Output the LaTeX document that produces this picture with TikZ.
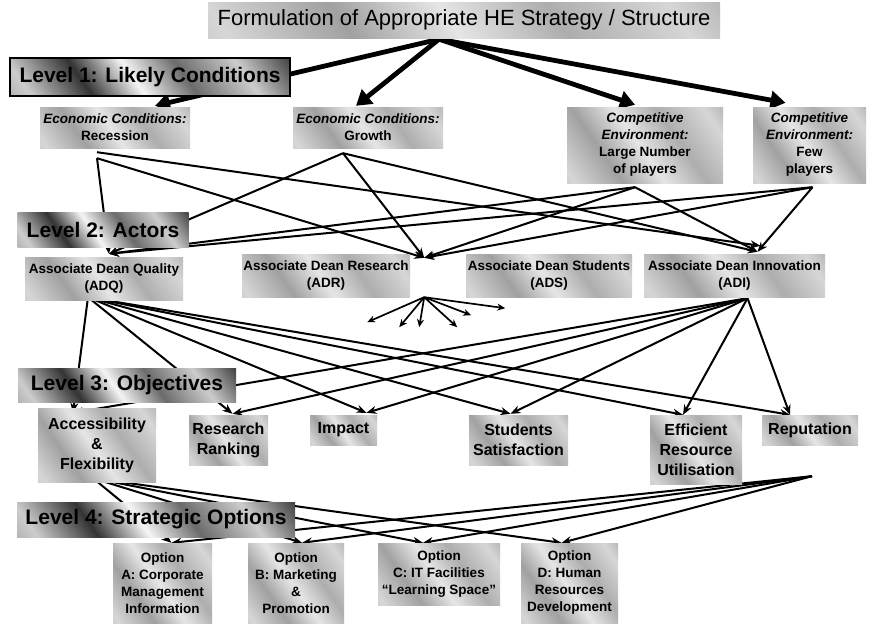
\documentclass[tikz,border=0pt]{standalone}
\usepackage{fontspec}
\setmainfont{Liberation Sans}
\usetikzlibrary{arrows.meta,calc}

% brushed-steel fills
\definecolor{s1}{gray}{0.68}
\definecolor{s2}{gray}{0.84}
\definecolor{s3}{gray}{0.63}
\definecolor{s4}{gray}{0.90}
\definecolor{d1}{gray}{0.42}
\definecolor{d2}{gray}{0.80}
\definecolor{d3}{gray}{0.20}
\definecolor{d4}{gray}{0.96}
\pgfdeclarehorizontalshading{steel}{100bp}{color(0bp)=(s1); color(18bp)=(s2); color(34bp)=(s3); color(48bp)=(s4); color(62bp)=(s1); color(78bp)=(s2); color(90bp)=(s3); color(100bp)=(s2)}
\pgfdeclarehorizontalshading{steeldark}{100bp}{color(0bp)=(d1); color(20bp)=(d2); color(34bp)=(d3); color(46bp)=(d4); color(58bp)=(d1); color(72bp)=(d2); color(86bp)=(d3); color(100bp)=(d2)}

\pgfdeclarelayer{paper}
\pgfdeclarelayer{wires}
\pgfsetlayers{paper,wires,main}

\tikzset{
  plate/.style={shade, shading=steel, shading angle=35, inner sep=0pt, align=center,
    font=\bfseries\fontsize{13.5}{17}\selectfont},
  headplate/.style={plate, font=\fontsize{22}{26}\selectfont},
  goal/.style={plate, font=\bfseries\fontsize{16}{20}\selectfont},
  tag/.style={shade, shading=steeldark, shading angle=35, inner sep=0pt, align=center,
    font=\bfseries\fontsize{21}{24}\selectfont},
  wire/.style={line width=2pt, -{Stealth[length=10pt,width=8pt]}},
  fanwire/.style={line width=1.7pt, -{Stealth[length=8pt,width=7pt]}},
  bigwire/.style={line width=4.8pt, -{Triangle[length=15pt,width=18pt]}},
}

\begin{document}
\begin{tikzpicture}[x=1pt,y=-1pt]
\useasboundingbox (0,0) rectangle (870,624);
\begin{pgfonlayer}{paper}
  \fill[white] (0,0) rectangle (870,624);
\end{pgfonlayer}

% ---- top ----
\node[headplate, minimum width=512pt, minimum height=36pt] (head) at (464,20)
  {Formulation of Appropriate HE Strategy / Structure};

% ---- level 1 ----
\node[tag, draw=black, line width=1.2pt, minimum width=280pt, minimum height=38pt] (lvl1) at (150,77)
  {Level 1: Likely Conditions};
\node[plate, minimum width=150pt, minimum height=41pt] (rec) at (115,127.5)
  {{\itshape Economic Conditions:}\\Recession};
\node[plate, minimum width=150pt, minimum height=41pt] (gro) at (368,127.5)
  {{\itshape Economic Conditions:}\\Growth};
\node[plate, minimum width=156pt, minimum height=76pt] (lar) at (645,145)
  {{\itshape Competitive}\\{\itshape Environment:}\\Large Number\\of players};
\node[plate, minimum width=113pt, minimum height=76pt] (few) at (809.5,145)
  {{\itshape Competitive}\\{\itshape Environment:}\\Few\\players};

% ---- level 2 ----
\node[tag, minimum width=171pt, minimum height=35pt] (lvl2) at (103,229.5) {Level 2: Actors};
\node[plate, minimum width=158pt, minimum height=43pt] (adq) at (104,278.5)
  {Associate Dean Quality\\(ADQ)};
\node[plate, minimum width=168pt, minimum height=43pt] (adr) at (326,275.5)
  {Associate Dean Research\\(ADR)};
\node[plate, minimum width=166pt, minimum height=43pt] (ads) at (549,275.5)
  {Associate Dean Students\\(ADS)};
\node[plate, minimum width=181pt, minimum height=43pt] (adi) at (734.5,275.5)
  {Associate Dean Innovation\\(ADI)};

% ---- level 3 ----
\node[tag, minimum width=218pt, minimum height=34pt] (lvl3) at (127,385) {Level 3: Objectives};
\node[goal, minimum width=118pt, minimum height=74pt] (acc) at (97,445)
  {Accessibility\\\&\\Flexibility};
\node[goal, minimum width=79pt, minimum height=50pt] (rr) at (228.5,440)
  {Research\\Ranking};
\node[goal, minimum width=67pt, minimum height=30pt] (imp) at (343.5,430) {Impact};
\node[goal, minimum width=99pt, minimum height=50pt] (ss) at (518.5,440)
  {Students\\Satisfaction};
\node[goal, minimum width=92pt, minimum height=69pt] (eru) at (696,449.5)
  {Efficient\\Resource\\Utilisation};
\node[goal, minimum width=96pt, minimum height=30pt] (rep) at (810,430) {Reputation};

% ---- level 4 ----
\node[tag, minimum width=278pt, minimum height=35pt] (lvl4) at (156,519.5) {Level 4: Strategic Options};
\node[plate, minimum width=99pt, minimum height=80pt] (optA) at (162.5,583)
  {Option\\A: Corporate\\Management\\Information};
\node[plate, minimum width=96pt, minimum height=80pt] (optB) at (296,583)
  {Option\\B: Marketing\\\&\\Promotion};
\node[plate, minimum width=122pt, minimum height=62pt] (optC) at (439,574)
  {Option\\C: IT Facilities\\``Learning Space''};
\node[plate, minimum width=97pt, minimum height=80pt] (optD) at (569.5,583)
  {Option\\D: Human\\Resources\\Development};

% ---- connector end points ----
\coordinate (head-o) at ($(head.south)+(-25,1)$);
\coordinate (rec-t) at ($(rec.north)+(40,-1)$);
\coordinate (gro-t) at ($(gro.north)+(-12,-1)$);
\coordinate (lar-t) at ($(lar.north)+(-10,-2)$);
\coordinate (few-t) at ($(few.north)+(-24,-4)$);

\coordinate (rec-o1) at ($(rec.south)+(-18,4)$);
\coordinate (rec-o2) at ($(rec.south)+(-18,10)$);
\coordinate (gro-o) at ($(gro.south)+(-25,5)$);
\coordinate (lar-o) at ($(lar.south)+(-10,4)$);
\coordinate (few-o) at ($(few.south)+(3,4)$);

\coordinate (adq-t) at ($(adq.north)+(5,-3)$);
\coordinate (adr-t) at ($(adr.north east)+(14,4)$);
\coordinate (adi-t1) at ($(adi.north)+(26,-8)$);
\coordinate (adi-t2) at ($(adi.north)+(23,-2)$);

\coordinate (adq-o) at ($(adq.south)+(-16,-3)$);
\coordinate (adi-o) at ($(adi.south)+(13,1)$);
\coordinate (acc-t) at ($(acc.north)+(-24,5)$);
\coordinate (rr-t) at ($(rr.north)+(4,-1)$);
\coordinate (imp-t) at ($(imp.north)+(23,-2)$);
\coordinate (ss-t) at ($(ss.north)+(-8,-1)$);
\coordinate (eru-t) at ($(eru.north)+(-13,0)$);
\coordinate (rep-t) at ($(rep.north)+(-20,0)$);

\coordinate (acc-o) at ($(acc.south)+(-4,-4)$);
\coordinate (hub) at ($(rep.south)+(2,31)$);
\coordinate (optA-t) at ($(optA.north)+(9,0)$);
\coordinate (optB-t) at ($(optB.north)+(6,0)$);
\coordinate (optC-t) at ($(optC.north)+(-16,0)$);
\coordinate (optD-t) at ($(optD.north)+(-8,0)$);

\coordinate (fan) at ($(adr.south east)+(14,0)$);
\coordinate (fan1) at ($(fan)+(-57,25)$);
\coordinate (fan2) at ($(fan)+(-25,30)$);
\coordinate (fan3) at ($(fan)+(-5,30)$);
\coordinate (fan4) at ($(fan)+(33,30)$);
\coordinate (fan5) at ($(fan)+(47,18)$);
\coordinate (fan6) at ($(fan)+(81,11)$);

\begin{pgfonlayer}{wires}
  % strategy to likely conditions
  \foreach \t in {rec-t,gro-t,lar-t,few-t}
    \draw[bigwire] (head-o) -- (\t);
  % likely conditions to actors
  \draw[wire] (rec-o1) -- (adi-t1);
  \draw[wire] (rec-o2) -- (adq-t);
  \draw[wire] (rec-o2) -- (adr-t);
  \foreach \s in {gro-o,lar-o,few-o}{
    \draw[wire] (\s) -- (adq-t);
    \draw[wire] (\s) -- (adr-t);
    \draw[wire] (\s) -- (adi-t2);
  }
  % actors to objectives
  \foreach \s in {adq-o,adi-o}
    \foreach \t in {acc-t,rr-t,imp-t,ss-t,eru-t,rep-t}
      \draw[wire] (\s) -- (\t);
  % objectives to strategic options
  \foreach \s in {acc-o,hub}
    \foreach \t in {optA-t,optB-t,optC-t,optD-t}
      \draw[wire] (\s) -- (\t);
  % fan below the research actor
  \foreach \t in {fan1,fan2,fan3,fan4,fan5,fan6}
    \draw[fanwire] (fan) -- (\t);
\end{pgfonlayer}
\end{tikzpicture}
\end{document}
